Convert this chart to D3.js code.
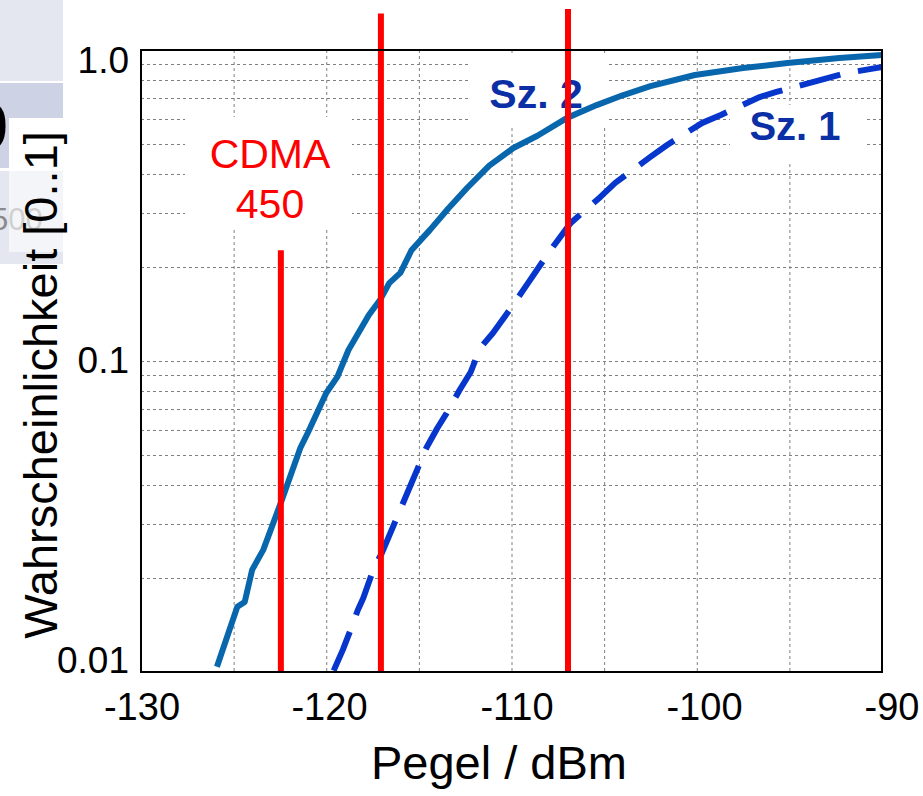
<!DOCTYPE html>
<html><head><meta charset="utf-8">
<script src="https://cdn.jsdelivr.net/npm/d3@7"></script>
<style>body{margin:0;background:#fff}svg{display:block}</style>
</head><body>
<svg id="c" width="923" height="796"></svg>
<script>
// ---- data ----
const xTickValues = [-130, -120, -110, -100, -90];
const xTickLabels = ["-130", "-120", "-110", "-100", "-90"];
const yTickValues = [1, 0.1, 0.01];
const yTickLabels = ["1.0", "0.1", "0.01"];
const xGrid = [-125, -120, -115, -110, -105, -100, -95];
const yGrid = [0.02,0.03,0.04,0.05,0.06,0.07,0.08,0.09,0.1,0.2,0.3,0.4,0.5,0.6,0.7,0.8,0.9];

const sz2Level = [-125.9,-124.8,-124.4,-124.0,-123.4,-122.4,-121.4,-121.0,-120.0,-119.4,-118.8,-117.7,-117.1,-116.6,-116.0,-115.4,-114.4,-113.4,-112.4,-111.2,-109.9,-108.6,-107.0,-105.4,-104.0,-102.5,-100.1,-97.5,-95.1,-92.3,-90.0];
const sz2Prob  = [0.0104,0.0162,0.0168,0.0213,0.0247,0.0357,0.0525,0.0587,0.0789,0.0889,0.1085,0.1406,0.157,0.178,0.192,0.227,0.264,0.31,0.360,0.425,0.484,0.530,0.605,0.665,0.715,0.765,0.831,0.875,0.908,0.942,0.964];

const sz1Level = [-119.6,-119.1,-118.7,-118.3,-118.0,-117.4,-117.0,-114.6,-114.0,-113.5,-112.8,-112.2,-111.7,-111.0,-110.1,-109.0,-107.9,-106.8,-105.2,-104.4,-102.5,-101.6,-99.7,-98.7,-96.6,-95.7,-91.9,-90.9,-90.0];
const sz1Prob  = [0.0101,0.0118,0.0136,0.0158,0.0173,0.0218,0.0241,0.0525,0.0609,0.068,0.0807,0.0922,0.110,0.123,0.146,0.182,0.227,0.278,0.337,0.374,0.453,0.495,0.583,0.618,0.706,0.733,0.844,0.863,0.882];

const markerLevel = [-122.45, -117.05, -106.95];
const markerTop   = [0.227, 1.31, 1.355];

// ---- setup ----
const svg = d3.select("#c");
const FONT = "'Liberation Sans', Arial, sans-serif";
const x = d3.scaleLinear().domain([-130, -90]).range([141, 882]);
const y = d3.scaleLog().domain([0.01, 1]).range([672, 50]);
// tick-label placement of the original (labels slightly offset from grid)
const xLab = d3.scaleLinear().domain([-130, -90]).range([142, 892]);
const yLab = d3.scaleLog().domain([0.01, 1]).range([660, 60]);

// ---- top-left fragment of neighbouring slide ----
const frag = svg.append("g");
frag.append("rect").attr("x",0).attr("y",0).attr("width",63).attr("height",81).attr("fill","#e4e7f0");
frag.append("rect").attr("x",0).attr("y",83).attr("width",63).attr("height",85).attr("fill","#cdd3e4");
frag.append("rect").attr("x",0).attr("y",171).attr("width",63).attr("height",93).attr("fill","#e4e7f0");
frag.append("text").attr("x",8).attr("y",150).attr("text-anchor","end")
  .attr("font-family",FONT).attr("font-weight","bold").attr("font-size",68).attr("fill","#000").text("9");
frag.append("text").attr("x",-9).attr("y",230)
  .attr("font-family",FONT).attr("font-size",31).attr("fill","#8a8a8a").text("500");
frag.append("rect").attr("x",9).attr("y",118).attr("width",54).attr("height",51).attr("fill","#fff");
frag.append("rect").attr("x",9).attr("y",169).attr("width",54).attr("height",83).attr("fill","#fff").attr("opacity",0.6);

// ---- grid ----
const grid = svg.append("g").attr("stroke","#808080").attr("stroke-width",1).attr("stroke-dasharray","3,3");
grid.selectAll("line.v").data(xGrid).join("line")
  .attr("x1",d=>x(d)+0.5).attr("x2",d=>x(d)+0.5).attr("y1",y(1)).attr("y2",y(0.01));
grid.selectAll("line.h").data(yGrid).join("line")
  .attr("x1",x(-130)).attr("x2",x(-90)).attr("y1",d=>Math.round(y(d))+0.5).attr("y2",d=>Math.round(y(d))+0.5);

// ---- label boxes ----
svg.append("rect").attr("x",185).attr("y",117).attr("width",167).attr("height",111).attr("fill","#fff");
svg.append("rect").attr("x",470).attr("y",55).attr("width",137).attr("height",73).attr("fill","#fff");
svg.append("rect").attr("x",730).attr("y",105).attr("width",137).attr("height",57).attr("fill","#fff");

svg.append("text").attr("x",270).attr("y",168).attr("text-anchor","middle")
  .attr("font-family",FONT).attr("font-size",41).attr("fill","#ff0000").text("CDMA");
svg.append("text").attr("x",270).attr("y",218).attr("text-anchor","middle")
  .attr("font-family",FONT).attr("font-size",41).attr("fill","#ff0000").text("450");
svg.append("text").attr("x",536).attr("y",108).attr("text-anchor","middle")
  .attr("font-family",FONT).attr("font-weight","bold").attr("font-size",41).attr("fill","#0b2fa5").text("Sz. 2");
svg.append("text").attr("x",795).attr("y",140).attr("text-anchor","middle")
  .attr("font-family",FONT).attr("font-weight","bold").attr("font-size",40).attr("fill","#0b2fa5").text("Sz. 1");

// ---- curves ----
const line = d3.line().x(d=>x(d[0])).y(d=>y(d[1]));
svg.append("path").datum(d3.zip(sz2Level, sz2Prob)).attr("d",line)
  .attr("fill","none").attr("stroke","#0866ad").attr("stroke-width",6).attr("stroke-linejoin","round");
svg.append("path").datum(d3.zip(sz1Level, sz1Prob)).attr("d",line)
  .attr("fill","none").attr("stroke","#0636cc").attr("stroke-width",6)
  .attr("stroke-dasharray","42,18").attr("stroke-linejoin","round");

// ---- red markers ----
svg.selectAll("line.m").data(d3.zip(markerLevel, markerTop)).join("line")
  .attr("x1",d=>x(d[0])).attr("x2",d=>x(d[0])).attr("y1",d=>y(d[1])).attr("y2",y(0.01))
  .attr("stroke","#ff0000").attr("stroke-width",6);

// ---- frame ----
svg.append("rect").attr("x",x(-130)).attr("y",y(1)).attr("width",x(-90)-x(-130)).attr("height",y(0.01)-y(1))
  .attr("fill","none").attr("stroke","#000").attr("stroke-width",2);

// ---- tick labels ----
svg.append("g").selectAll("text").data(xTickValues).join("text")
  .attr("x",d=>xLab(d)).attr("y",720).attr("text-anchor","middle")
  .attr("font-family",FONT).attr("font-size",38).attr("fill","#000")
  .text((d,i)=>xTickLabels[i]);
svg.append("g").selectAll("text").data(yTickValues).join("text")
  .attr("x",129).attr("y",d=>yLab(d)).attr("dy","0.36em").attr("text-anchor","end")
  .attr("font-family",FONT).attr("font-size",37).attr("fill","#000")
  .text((d,i)=>yTickLabels[i]);

// ---- axis titles ----
svg.append("text").attr("x",499).attr("y",779).attr("text-anchor","middle")
  .attr("font-family",FONT).attr("font-size",47).attr("fill","#000").text("Pegel / dBm");
svg.append("text").attr("transform","translate(57,385) rotate(-90)").attr("text-anchor","middle")
  .attr("font-family",FONT).attr("font-size",47).attr("fill","#000").text("Wahrscheinlichkeit [0..1]");
</script>
</body></html>
